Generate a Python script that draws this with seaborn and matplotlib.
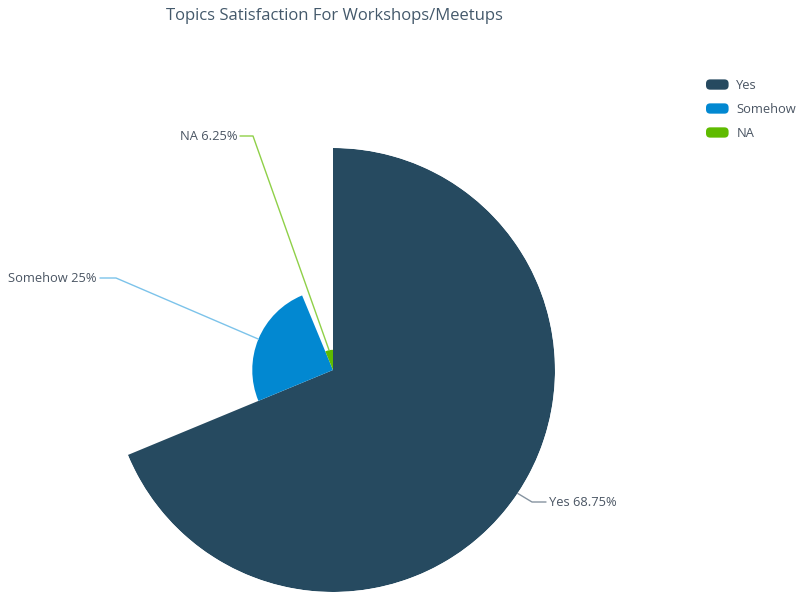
import numpy as np
import matplotlib
matplotlib.use("Agg")
import matplotlib.pyplot as plt
import seaborn as sns
from matplotlib.lines import Line2D
from matplotlib.patches import Patch, FancyBboxPatch
from matplotlib.legend_handler import HandlerPatch
from matplotlib.transforms import IdentityTransform

categories = ["Yes", "Somehow", "NA"]
values = [68.75, 25.0, 6.25]
label_texts = ["Yes 68.75%", "Somehow 25%", "NA 6.25%"]
colors = ["#264a60", "#0288d1", "#5fbb00"]
line_colors = ["#8593a0", "#7cc3ea", "#8fd048"]
title = "Topics Satisfaction For Workshops/Meetups"

sns.set_theme(style="white")
plt.rcParams["font.family"] = ["Open Sans", "DejaVu Sans"]


class RoundHandler(HandlerPatch):
    def create_artists(self, legend, orig_handle, xdescent, ydescent, width, height, fontsize, trans):
        p = FancyBboxPatch((-xdescent, -ydescent), width, height,
                           boxstyle="round,pad=0,rounding_size=3",
                           facecolor=orig_handle.get_facecolor(), edgecolor="none", transform=trans)
        return [p]


fig = plt.figure(figsize=(7.98, 5.94), dpi=100)
W, H = 798, 594
cx, cy, R = 333, 370, 222
ax = fig.add_axes([(cx - R) / W, (H - cy - R) / H, 2 * R / W, 2 * R / H], projection="polar")
ax.set_theta_zero_location("N")
ax.set_theta_direction(-1)

vals = np.array(values)
widths = vals / vals.sum() * 2 * np.pi
starts = np.concatenate([[0], np.cumsum(widths)[:-1]])
centers = starts + widths / 2
ax.bar(centers, vals, width=widths, bottom=0, color=colors, linewidth=0, align="center")
ax.set_ylim(0, vals.max())
ax.set_axis_off()

fig.text(334 / W, 1 - 16 / H, title, ha="center", va="center", fontsize=12, color="#44596b")

# leader lines and labels (elbow / text positions in figure pixels, top-left origin)
elbows = [(532, 502), (116, 278), (253, 136)]
ends = [(546, 502), (100, 278), (240, 136)]
fig.canvas.draw()
for i, cat in enumerate(categories):
    px, py = ax.transData.transform((centers[i], vals[i]))
    ex, ey = elbows[i][0], H - elbows[i][1]
    tx, ty = ends[i][0], H - ends[i][1]
    fig.add_artist(Line2D([px, ex, tx], [py, ey, ty], transform=IdentityTransform(),
                          color=line_colors[i], lw=1.0))
    if tx > ex:
        fig.text((tx + 3) / W, ty / H, label_texts[i], ha="left", va="center", fontsize=9.3, color="#4a5563")
    else:
        fig.text((tx - 3) / W, ty / H, label_texts[i], ha="right", va="center", fontsize=9.3, color="#4a5563")

handles = [Patch(facecolor=c, edgecolor="none", label=l) for c, l in zip(colors, categories)]
fig.legend(handles=handles, loc="upper left", bbox_to_anchor=(706 / W, 1 - 79 / H), frameon=False,
           fontsize=9.3, handlelength=1.75, handleheight=0.85, labelspacing=0.85, handletextpad=0.6,
           borderpad=0, borderaxespad=0, labelcolor="#4a5563",
           handler_map={Patch: RoundHandler()})

fig.savefig("out.png", dpi=100, facecolor="white")
